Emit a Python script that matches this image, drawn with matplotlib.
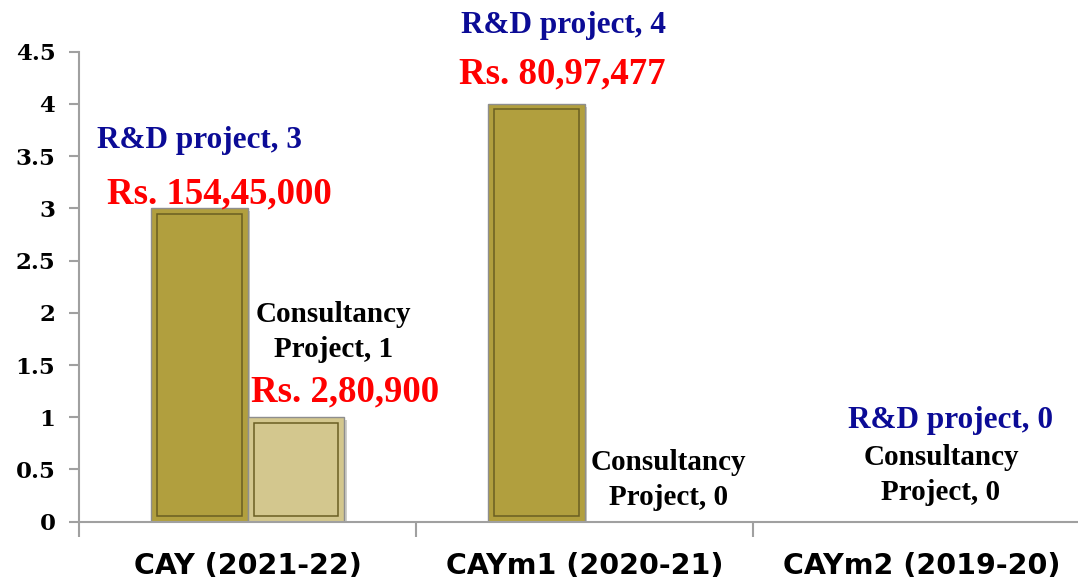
import matplotlib
matplotlib.use('Agg')
import matplotlib.pyplot as plt
import matplotlib.patheffects as pe
import numpy as np

# chart data
categories = ['CAY (2021-22)', 'CAYm1 (2020-21)', 'CAYm2 (2019-20)']
rd_projects = [3, 4, 0]
consultancy_projects = [1, 0, 0]
rd_amounts = ['Rs. 154,45,000', 'Rs. 80,97,477', '']
consultancy_amounts = ['Rs. 2,80,900', '', '']
y_ticks = [0, 0.5, 1, 1.5, 2, 2.5, 3, 3.5, 4, 4.5]

# label placement (offset from category centre, baseline in data units)
rd_label_pos = [(-0.141, 3.58), (-0.061, 4.68), (0.085, 0.897)]
rd_amount_pos = [(-0.082, 3.05), (-0.067, 4.20)]
cons_label_pos = [(0.254, 1.578), (0.248, 0.160), (0.058, 0.208)]
cons_amount_pos = [(0.289, 1.147)]

rd_color = '#B19F3E'
cons_color = '#D3C78E'
blue = '#0B0B96'
red = '#FF0000'
serif = 'Liberation Serif'

fig = plt.figure(figsize=(10.78, 5.82), dpi=100)
ax = fig.add_axes([79 / 1078, 60.3 / 582, 1011 / 1078, 470 / 582])

x = np.arange(len(categories))
w = 0.286
shadow = [pe.SimplePatchShadow(offset=(2, -2), alpha=0.25), pe.Normal()]

# inset of the inner bevel line, in data units
dx = 6 / 337
dy = 5.5 / 104.4

for xs, vals, col in [(x - w / 2, rd_projects, rd_color),
                      (x + w / 2, consultancy_projects, cons_color)]:
    for xi, v in zip(xs, vals):
        if v <= 0:
            continue
        ax.bar(xi, v, w, color=col, edgecolor='#8E8E8E', linewidth=1.0,
               path_effects=shadow, zorder=2)
        ax.bar(xi, v - 2 * dy, w - 2 * dx, bottom=dy, fill=False,
               edgecolor='#6A5E22', linewidth=1.1, zorder=3)

# annotations
for i, (px, py) in enumerate(rd_label_pos):
    ax.text(x[i] + px, py, f'R&D project, {rd_projects[i]}', color=blue,
            fontsize=22.5, fontweight='bold', family=serif,
            ha='center', va='baseline')
for i, (px, py) in enumerate(rd_amount_pos):
    ax.text(x[i] + px, py, rd_amounts[i], color=red,
            fontsize=26.5, fontweight='bold', family=serif,
            ha='center', va='baseline')
for i, (px, py) in enumerate(cons_label_pos):
    ax.text(x[i] + px, py, f'Consultancy\nProject, {consultancy_projects[i]}',
            color='black', fontsize=21, fontweight='bold', family=serif,
            ha='center', va='baseline', multialignment='center',
            linespacing=1.36)
for i, (px, py) in enumerate(cons_amount_pos):
    ax.text(x[i] + px, py, consultancy_amounts[i], color=red,
            fontsize=26.5, fontweight='bold', family=serif,
            ha='center', va='baseline')

# axes styling
ax.set_xlim(-0.5, len(categories) - 0.5)
ax.set_ylim(0, 4.5)
for s in ['top', 'right']:
    ax.spines[s].set_visible(False)
for s in ['left', 'bottom']:
    ax.spines[s].set_color('#A0A0A0')
    ax.spines[s].set_linewidth(1.5)

ax.set_yticks(y_ticks)
ax.set_yticklabels([f'{t:g}' for t in y_ticks], fontsize=16.5,
                   fontweight='bold', family='DejaVu Serif')
ax.tick_params(axis='y', length=7, width=1.5, color='#A0A0A0', pad=10)

ax.set_xticks(x)
ax.set_xticklabels(categories, fontsize=20.5, fontweight='bold',
                   family='DejaVu Sans')
ax.tick_params(axis='x', which='major', length=0, pad=22)
ax.set_xticks(np.arange(len(categories) + 1) - 0.5, minor=True)
ax.tick_params(axis='x', which='minor', length=11, width=1.5,
               color='#A0A0A0')

fig.savefig('out.png', dpi=100)
